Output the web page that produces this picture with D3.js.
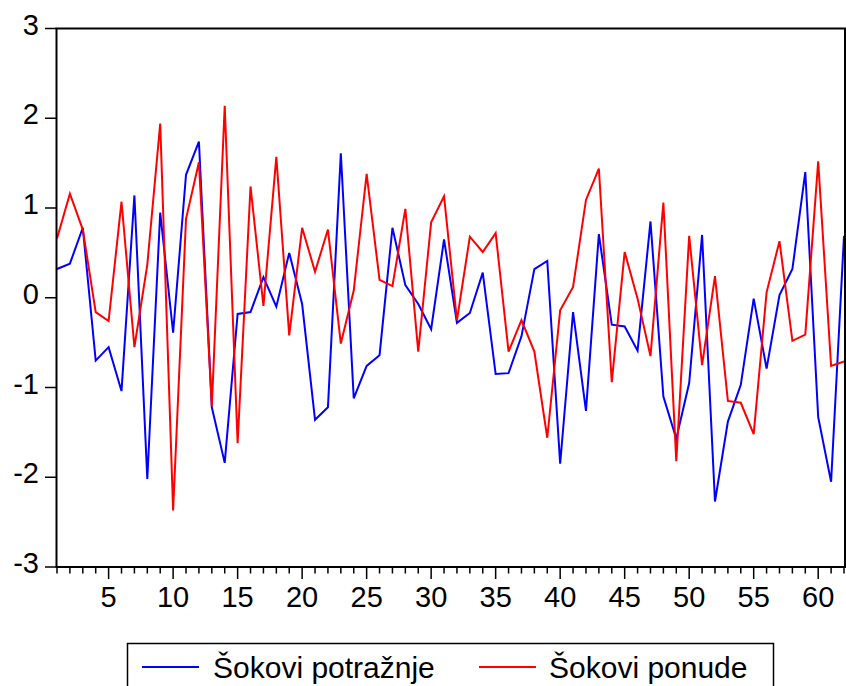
<!DOCTYPE html>
<html><head><meta charset="utf-8">
<script src="https://cdn.jsdelivr.net/npm/d3@7/dist/d3.min.js"></script>
<style>
html,body{margin:0;padding:0;background:#fff;}
svg{display:block;}
text{font-family:"Liberation Sans",Arial,sans-serif;fill:#000;}
</style></head>
<body>
<div id="chart"></div>
<script>
const seriesNames = ["Šokovi potražnje", "Šokovi ponude"];
const seriesColors = ["#0000ff", "#ff0000"];
const demandShocks = [0.32,0.38,0.78,-0.70,-0.55,-1.04,1.14,-2.02,0.95,-0.39,
  1.37,1.74,-1.22,-1.84,-0.18,-0.16,0.23,-0.10,0.50,-0.07,
  -1.36,-1.22,1.61,-1.12,-0.76,-0.64,0.78,0.14,-0.07,-0.35,
  0.65,-0.28,-0.17,0.28,-0.85,-0.84,-0.43,0.32,0.41,-1.85,
  -0.16,-1.26,0.71,-0.30,-0.32,-0.59,0.85,-1.10,-1.57,-0.95,
  0.70,-2.27,-1.38,-0.97,-0.01,-0.79,0.03,0.32,1.40,-1.33,
  -2.05,0.69];
const supplyShocks = [0.66,1.16,0.76,-0.16,-0.26,1.07,-0.55,0.37,1.94,-2.37,
  0.88,1.51,-1.21,2.14,-1.62,1.24,-0.09,1.57,-0.42,0.78,
  0.29,0.76,-0.51,0.08,1.38,0.20,0.13,0.99,-0.60,0.84,
  1.13,-0.25,0.68,0.51,0.72,-0.60,-0.25,-0.60,-1.56,-0.14,
  0.12,1.09,1.44,-0.94,0.51,-0.01,-0.65,1.06,-1.82,0.69,
  -0.75,0.24,-1.15,-1.17,-1.52,0.06,0.63,-0.48,-0.41,1.52,
  -0.76,-0.71];
const xTickLabels = [5,10,15,20,25,30,35,40,45,50,55,60];
const yTickLabels = [-3,-2,-1,0,1,2,3];

(function(){
const W = 846, H = 686;
const pL = 56.5, pR = 845, pT = 28.5, pB = 567;

const svg = d3.select("#chart").append("svg").attr("width", W).attr("height", H);

const x = d3.scaleLinear().domain([1, 62]).range([57, 844]);
const y = d3.scaleLinear().domain([-3, 3]).range([pB, pT]);

svg.append("defs").append("clipPath").attr("id","plotclip")
  .append("rect").attr("x", pL).attr("y", pT).attr("width", pR-pL).attr("height", pB-pT);

const series = [demandShocks, supplyShocks];
const line = d3.line().x((d,i)=>x(i+1)).y(d=>y(d));
const g = svg.append("g").attr("clip-path","url(#plotclip)");
series.forEach((s,k)=>{
  g.append("path").datum(s).attr("d", line)
    .attr("fill","none").attr("stroke", seriesColors[k]).attr("stroke-width", 2)
    .attr("stroke-linejoin","miter");
});

svg.append("rect").attr("x", pL).attr("y", pT).attr("width", pR-pL).attr("height", pB-pT)
  .attr("fill","none").attr("stroke","#000").attr("stroke-width",2);

const yAxis = svg.append("g");
yTickLabels.forEach(v=>{
  yAxis.append("line").attr("x1", 45).attr("x2", pL).attr("y1", y(v)).attr("y2", y(v))
    .attr("stroke","#000").attr("stroke-width",1.5);
  yAxis.append("text").attr("x", 39).attr("y", y(v)+6).attr("text-anchor","end")
    .attr("font-size", 29).text(v);
});

const xAxis = svg.append("g");
d3.range(1, 63).forEach(i=>{
  const major = i % 5 === 0;
  xAxis.append("line").attr("x1", x(i)).attr("x2", x(i))
    .attr("y1", pB).attr("y2", pB + (major ? 12 : 6.5))
    .attr("stroke","#000").attr("stroke-width",1.5);
});
xTickLabels.forEach(v=>{
  xAxis.append("text").attr("x", x(v)).attr("y", 607).attr("text-anchor","middle")
    .attr("font-size", 29).text(v);
});

const lg = svg.append("g");
lg.append("rect").attr("x", 127.5).attr("y", 643.5).attr("width", 646).attr("height", 60)
  .attr("fill","#fff").attr("stroke","#000").attr("stroke-width",1.5);
const legendItems = [{x1:142, x2:199, tx:213},{x1:479, x2:536, tx:549}];
legendItems.forEach((it,k)=>{
  lg.append("line").attr("x1", it.x1).attr("x2", it.x2).attr("y1", 667).attr("y2", 667)
    .attr("stroke", seriesColors[k]).attr("stroke-width", 2);
  lg.append("text").attr("x", it.tx).attr("y", 678).attr("font-size", 30).text(seriesNames[k]);
});
})();
</script>
</body></html>
